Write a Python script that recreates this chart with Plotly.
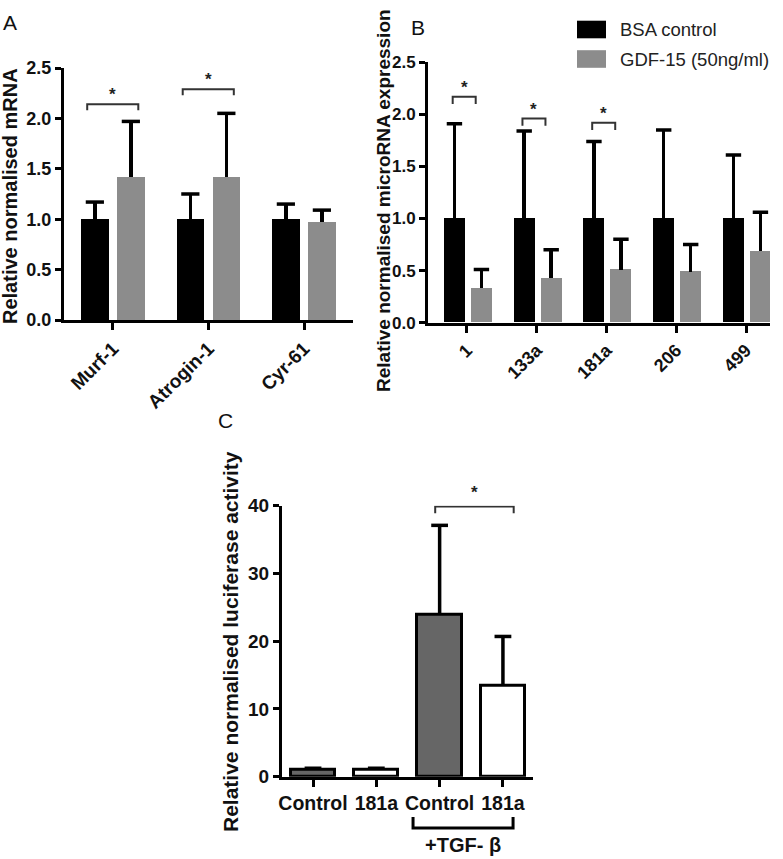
import plotly.graph_objects as go

W, H = 783, 859
FONT = "Liberation Sans, Arial, sans-serif"

# ---------------- data ----------------
A_categories = ["Murf-1", "Atrogin-1", "Cyr-61"]
A_bsa = [1.0, 1.0, 1.0]
A_bsa_err = [0.17, 0.25, 0.15]
A_gdf = [1.42, 1.42, 0.97]
A_gdf_err = [0.55, 0.63, 0.12]
A_sig_index = [0, 1]
A_sig_level = [2.14, 2.29]

B_categories = ["1", "133a", "181a", "206", "499"]
B_bsa = [1.0, 1.0, 1.0, 1.0, 1.0]
B_bsa_err = [0.91, 0.84, 0.74, 0.85, 0.61]
B_gdf = [0.33, 0.43, 0.51, 0.49, 0.69]
B_gdf_err = [0.18, 0.27, 0.29, 0.26, 0.37]
B_sig_index = [0, 1, 2]
B_sig_level = [2.17, 1.96, 1.92]

C_labels = ["Control", "181a", "Control", "181a"]
C_values = [1.0, 1.0, 23.9, 13.4]
C_err = [0.25, 0.25, 13.2, 7.3]
C_fill = ["#666666", "#ffffff", "#666666", "#ffffff"]
C_sig_pair = [2, 3]
C_sig_level = 39.9

series_names = ["BSA control", "GDF-15 (50ng/ml)"]
series_colors = ["#000000", "#8c8c8c"]

# ---------------- layout geometry (pixels) ----------------
A_dom_x = [64 / W, 353 / W]
A_dom_y = [1 - 320 / H, 1 - 68 / H]
A_range = [-0.513, 2.513]
B_dom_x = [428 / W, 770 / W]
B_dom_y = [1 - 322.7 / H, 1 - 62.3 / H]
B_range = [-0.559, 4.344]
C_dom_x = [282 / W, 533 / W]
C_dom_y = [1 - 776.7 / H, 1 - 505.7 / H]
C_range = [-0.49, 3.475]
C_yrange = [0, 40]

fig = go.Figure()


def add_bars(xs, ys, errs, offset, width, color, xa, ya, cap, line=None):
    marker = dict(color=color, line=line or dict(width=0))
    fig.add_bar(x=xs, y=ys, offset=offset, width=width, marker=marker,
                error_y=dict(type="data", symmetric=False, array=errs,
                             arrayminus=[0] * len(errs), thickness=3.5, width=0,
                             color="black"),
                xaxis=xa, yaxis=ya, showlegend=False)
    centers = [x + offset + width / 2 for x in xs]
    tops = [y + e for y, e in zip(ys, errs)]
    fig.add_scatter(x=centers, y=tops, mode="markers", xaxis=xa, yaxis=ya,
                    showlegend=False, hoverinfo="skip",
                    marker=dict(symbol="line-ew", size=cap,
                                line=dict(color="black", width=3.5)))


# Panel A
add_bars(list(range(len(A_categories))), A_bsa, A_bsa_err, -0.335, 0.29, series_colors[0], "x", "y", 13)
add_bars(list(range(len(A_categories))), A_gdf, A_gdf_err, 0.042, 0.29, series_colors[1], "x", "y", 13)
# Panel B
add_bars(list(range(len(B_categories))), B_bsa, B_bsa_err, -0.33, 0.30, series_colors[0], "x2", "y2", 11)
add_bars(list(range(len(B_categories))), B_gdf, B_gdf_err, 0.057, 0.30, series_colors[1], "x2", "y2", 11)
# Panel C
add_bars(list(range(len(C_labels))), C_values, C_err, -0.35, 0.7, C_fill, "x3", "y3", 12,
         line=dict(color="black", width=3))


def xax(dom, rng, vals, text, anchor, angle, size=19):
    return dict(domain=dom, range=rng, tickvals=vals, ticktext=text, tickangle=angle,
                showline=True, linewidth=3, linecolor="black", ticks="outside",
                ticklen=7, tickwidth=2.5, tickcolor="black", showgrid=False,
                zeroline=False, anchor=anchor, automargin=False,
                tickfont=dict(family=FONT, size=size, color="#111111", weight="bold"))


def yax(dom, rng, dtick, fmt, anchor, size=18):
    return dict(domain=dom, range=rng, dtick=dtick, tickformat=fmt, showline=True,
                linewidth=3, linecolor="black", ticks="outside", ticklen=6, tickwidth=2.5,
                tickcolor="black", showgrid=False, zeroline=False, anchor=anchor,
                automargin=False,
                tickfont=dict(family=FONT, size=size, color="#111111", weight="bold"))


fig.update_layout(
    width=W, height=H, margin=dict(l=0, r=0, t=0, b=0, autoexpand=False),
    paper_bgcolor="white", plot_bgcolor="white", bargap=0,
    xaxis=xax(A_dom_x, A_range, list(range(3)), A_categories, "y", -45),
    yaxis=yax(A_dom_y, [0, 2.5], 0.5, ".1f", "x"),
    xaxis2=xax(B_dom_x, B_range, list(range(5)), B_categories, "y2", -45, size=18),
    yaxis2=yax(B_dom_y, [0, 2.5], 0.5, ".1f", "x2", size=17),
    xaxis3=xax(C_dom_x, C_range, list(range(4)), C_labels, "y3", 0, size=19.5),
    yaxis3=yax(C_dom_y, C_yrange, 10, "d", "x3", size=19),
)


def to_paper_x(v, dom, rng):
    return dom[0] + (v - rng[0]) / (rng[1] - rng[0]) * (dom[1] - dom[0])


def to_paper_y(v, dom, rng):
    return dom[0] + (v - rng[0]) / (rng[1] - rng[0]) * (dom[1] - dom[0])


shapes = []
annos = []
STAR = dict(family=FONT, size=17, color="#222222", weight="bold")
BRK = dict(color="#333333", width=2)

# significance brackets A
for i, lvl in zip(A_sig_index, A_sig_level):
    x0, x1 = i - 0.27, i + 0.265
    shapes.append(dict(type="path", xref="x", yref="y", line=BRK,
                       path=f"M {x0},{lvl - 0.06} L {x0},{lvl} L {x1},{lvl} L {x1},{lvl - 0.06}"))
    annos.append(dict(x=(x0 + x1) / 2, y=lvl + 0.1, xref="x", yref="y", text="*",
                      showarrow=False, font=STAR))

# significance brackets B
for i, lvl in zip(B_sig_index, B_sig_level):
    x0, x1 = i - 0.205, i + 0.125
    shapes.append(dict(type="path", xref="x2", yref="y2", line=BRK,
                       path=f"M {x0},{lvl - 0.07} L {x0},{lvl} L {x1},{lvl} L {x1},{lvl - 0.07}"))
    annos.append(dict(x=(x0 + x1) / 2, y=lvl + 0.09, xref="x2", yref="y2", text="*",
                      showarrow=False, font=STAR))

# significance bracket C
cx0, cx1 = C_sig_pair[0] - 0.07, C_sig_pair[1] + 0.17
shapes.append(dict(type="path", xref="x3", yref="y3", line=BRK,
                   path=f"M {cx0},{C_sig_level - 1.0} L {cx0},{C_sig_level} L {cx1},{C_sig_level} L {cx1},{C_sig_level - 1.0}"))
annos.append(dict(x=to_paper_x((cx0 + cx1) / 2, C_dom_x, C_range),
                  y=to_paper_y(C_sig_level + 2.0, C_dom_y, C_yrange),
                  xref="paper", yref="paper", text="*", showarrow=False, font=STAR))

# +TGF-beta grouping bracket below panel C
gx0 = to_paper_x(1.58, C_dom_x, C_range)
gx1 = to_paper_x(3.16, C_dom_x, C_range)
shapes.append(dict(type="path", xref="paper", yref="paper", line=dict(color="black", width=3),
                   path=f"M {gx0},{1 - 817 / H} L {gx0},{1 - 828 / H} L {gx1},{1 - 828 / H} L {gx1},{1 - 817 / H}"))
annos.append(dict(x=(gx0 + gx1) / 2, y=1 - 857 / H, xref="paper", yref="paper", text="+TGF- β",
                  showarrow=False, xanchor="center", yanchor="bottom", borderpad=0,
                  font=dict(family=FONT, size=20, color="#111111", weight="bold")))

# legend (manual)
for k, (nm, col) in enumerate(zip(series_names, series_colors)):
    top = 20.7 + k * 29.5
    shapes.append(dict(type="rect", xref="paper", yref="paper", x0=577 / W, x1=606 / W,
                       y0=1 - (top + 17.6) / H, y1=1 - top / H, fillcolor=col, line_width=0))
    annos.append(dict(x=618 / W, y=1 - (top + 9) / H, xref="paper", yref="paper", text=nm,
                      xanchor="left", yanchor="middle", showarrow=False,
                      font=dict(family=FONT, size=18.5, color="#222222")))

# axis titles
annos.append(dict(x=10 / W, y=1 - 196 / H, xref="paper", yref="paper", text="Relative normalised mRNA",
                  textangle=-90, showarrow=False, xanchor="center", yanchor="middle",
                  font=dict(family=FONT, size=20, color="#111111", weight="bold")))
annos.append(dict(x=383 / W, y=1 - 201 / H, xref="paper", yref="paper",
                  text="Relative normalised microRNA expression",
                  textangle=-90, showarrow=False, xanchor="center", yanchor="middle",
                  font=dict(family=FONT, size=19, color="#111111", weight="bold")))
annos.append(dict(x=230 / W, y=1 - 642 / H, xref="paper", yref="paper",
                  text="Relative normalised luciferase activity",
                  textangle=-90, showarrow=False, xanchor="center", yanchor="middle",
                  font=dict(family=FONT, size=21, color="#111111", weight="bold")))

# panel letters
for letter, px, py in [("A", 10, 23), ("B", 418, 28), ("C", 226, 420)]:
    annos.append(dict(x=px / W, y=1 - py / H, xref="paper", yref="paper", text=letter,
                      showarrow=False, xanchor="center", yanchor="middle",
                      font=dict(family=FONT, size=21, color="#111111")))

fig.update_layout(shapes=shapes, annotations=annos)
fig.write_html("out.html", config={"displayModeBar": False},
               post_script="document.body.style.margin='0px';document.body.style.overflow='hidden';")
